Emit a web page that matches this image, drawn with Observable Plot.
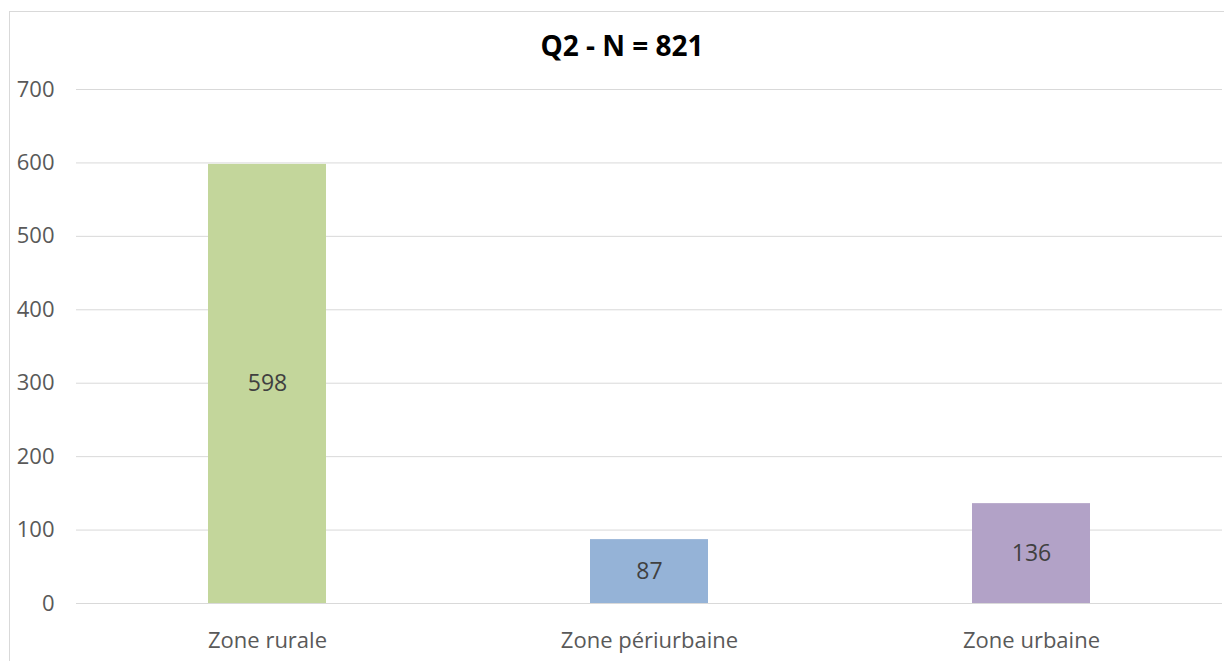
<!DOCTYPE html>
<html>
<head>
<meta charset="utf-8">
<script src="https://cdn.jsdelivr.net/npm/d3@7"></script>
<script src="https://cdn.jsdelivr.net/npm/@observablehq/plot@0.6"></script>
<style>
  html, body { margin: 0; padding: 0; background: #fff; }
  #wrap { position: relative; width: 1224px; height: 661px; overflow: hidden; }
  #frame { position: absolute; left: 9px; top: 11px; width: 1230px; height: 700px;
           border-top: 1px solid #d9d9d9; border-left: 1px solid #d9d9d9; }
  #title { position: absolute; left: 0; top: 27px; width: 1244px; text-align: center;
           font-family: "Open Sans", sans-serif; font-weight: bold; font-size: 28px; line-height: 36px; color: #000; }
  #chart { position: absolute; left: 0; top: 0; }
</style>
</head>
<body>
<div id="wrap">
  <div id="frame"></div>
  <div id="chart"></div>
  <div id="title">Q2 - N = 821</div>
</div>
<script>
const categories = ["Zone rurale", "Zone périurbaine", "Zone urbaine"];
const values = [598, 87, 136];
const colors = ["#c3d69b", "#95b3d7", "#b2a2c7"];
const yTicks = [0, 100, 200, 300, 400, 500, 600, 700];

const data = categories.map((c, i) => ({category: c, value: values[i], color: colors[i]}));

const chart = Plot.plot({
  width: 1224,
  height: 661,
  marginLeft: 76,
  marginRight: 2,
  marginTop: 89,
  marginBottom: 58,
  style: {fontFamily: "'Open Sans', sans-serif", fontSize: "22px", color: "#595959", background: "transparent"},
  x: {domain: categories, paddingInner: 0.69, paddingOuter: 0.345, label: null},
  y: {domain: [0, 700], ticks: yTicks, label: null},
  marks: [
    Plot.gridY(yTicks, {stroke: "#d9d9d9", strokeOpacity: 1}),
    Plot.barY(data, {x: "category", y: "value", fill: "color"}),
    Plot.text(data, {x: "category", y: d => d.value / 2, text: d => String(d.value), fill: "#404040", fontSize: 23}),
    Plot.axisY(yTicks, {tickSize: 0, tickPadding: 22, fill: "#595959", fontSize: 22}),
    Plot.axisX({tickSize: 0, tickPadding: 29, fill: "#595959", fontSize: 22})
  ]
});
document.getElementById("chart").appendChild(chart);
</script>
</body>
</html>
